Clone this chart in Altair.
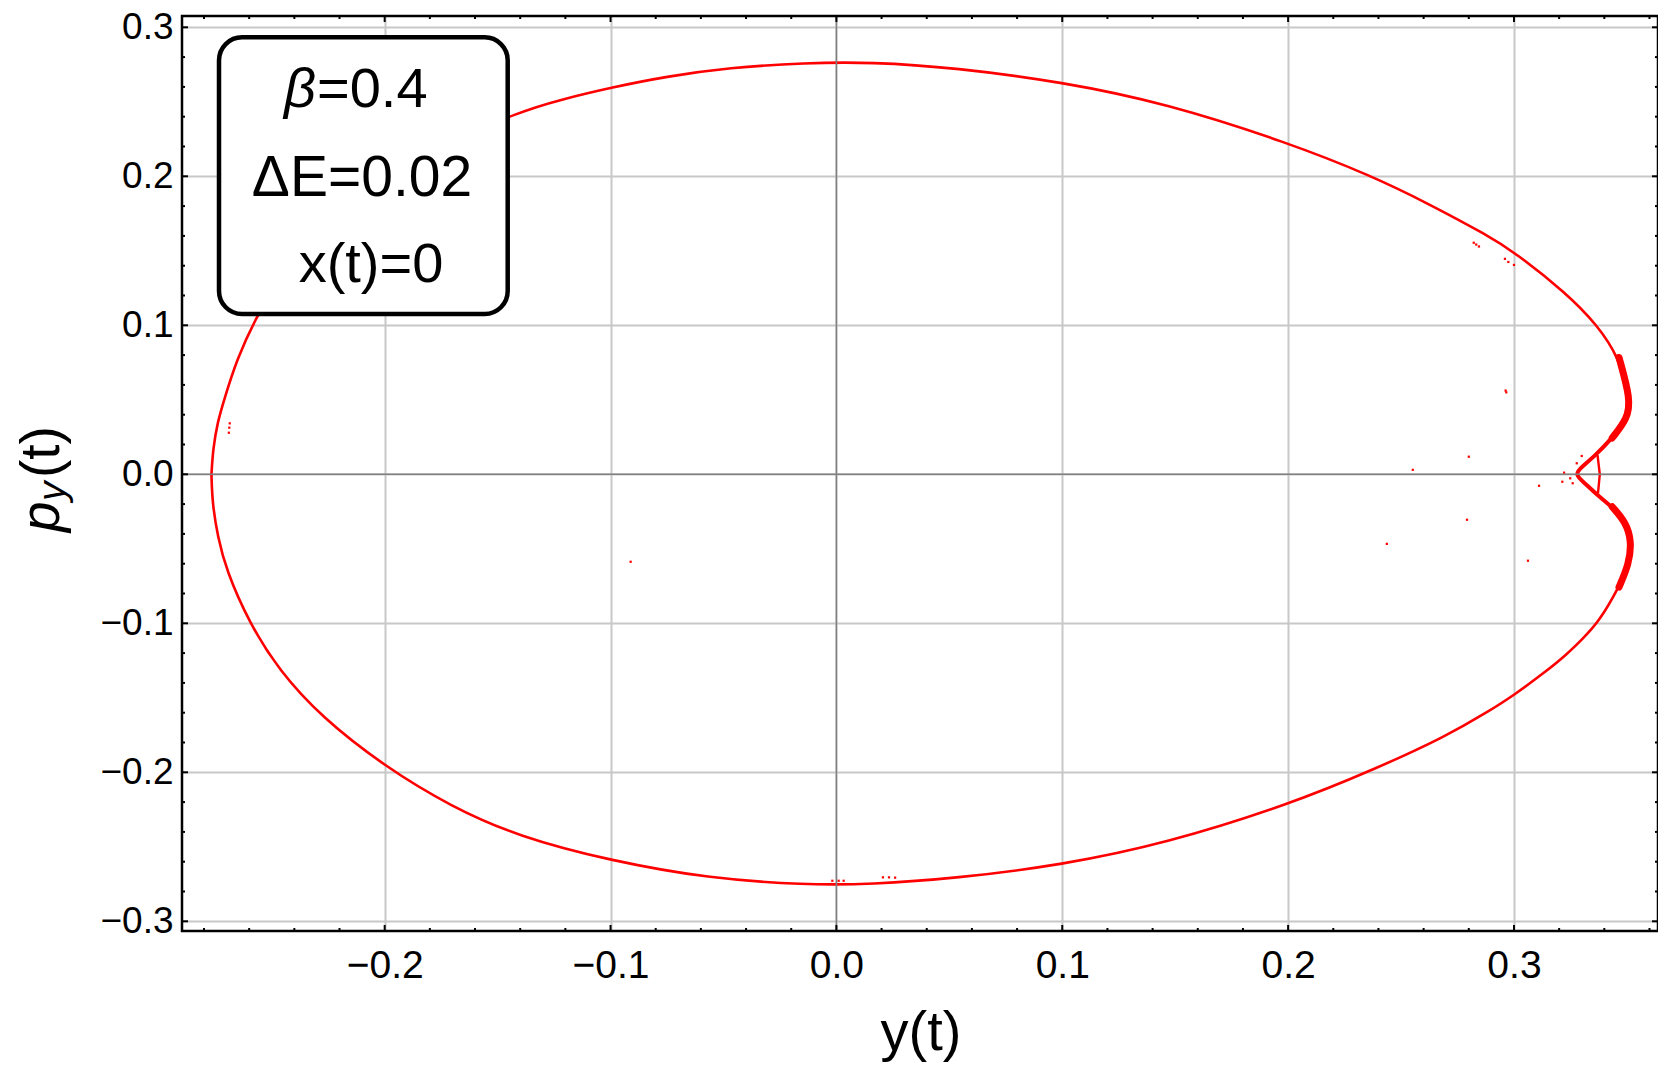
import altair as alt
import pandas as pd

# ---------------- data ----------------
X_DOMAIN = [-0.28974, 0.36377]
Y_DOMAIN = [-0.30651, 0.30758]

x_major = [-0.2, -0.1, 0.0, 0.1, 0.2, 0.3]
y_major = [-0.3, -0.2, -0.1, 0.0, 0.1, 0.2, 0.3]
x_minor = [-0.28, -0.26, -0.24, -0.22, -0.18, -0.16, -0.14, -0.12, -0.08, -0.06,
           -0.04, -0.02, 0.02, 0.04, 0.06, 0.08, 0.12, 0.14, 0.16, 0.18, 0.22,
           0.24, 0.26, 0.28, 0.32, 0.34, 0.36]
y_minor = [-0.28, -0.26, -0.24, -0.22, -0.18, -0.16, -0.14, -0.12, -0.08, -0.06,
           -0.04, -0.02, 0.02, 0.04, 0.06, 0.08, 0.12, 0.14, 0.16, 0.18, 0.22,
           0.24, 0.26, 0.28]

# main Poincare section curve, traced clockwise from the leftmost point
curve_y = [-0.2767, -0.2760, -0.2740, -0.2711, -0.2655, -0.2571, -0.2469, -0.2282,
           -0.1999, -0.1705, -0.1407, -0.1220, -0.1000, -0.0754, -0.0475, -0.0139,
           0.0154, 0.0526, 0.1000, 0.1458, 0.2000, 0.2371, 0.2613, 0.2889, 0.3002,
           0.3229, 0.3369, 0.3465, 0.3517, 0.3502, 0.3435, 0.3362, 0.3302, 0.3266,
           0.3318, 0.3369, 0.3435, 0.3495, 0.3521, 0.3509, 0.3465, 0.3376, 0.3300,
           0.3229, 0.3140, 0.3002, 0.2889, 0.2698, 0.2390, 0.2000, 0.1458, 0.1000,
           0.0526, 0.0154, -0.0139, -0.0568, -0.1001, -0.1407, -0.1705, -0.1999,
           -0.2282, -0.2469, -0.2599, -0.2702, -0.2739, -0.2763, -0.2767]
curve_py = [0.0000, 0.0170, 0.0350, 0.0500, 0.0770, 0.1050, 0.1310, 0.1630,
            0.1960, 0.2231, 0.2432, 0.2515, 0.2595, 0.2670, 0.2729, 0.2762,
            0.2767, 0.2729, 0.2633, 0.2490, 0.2226, 0.2002, 0.1823, 0.1599, 0.1490,
            0.1220, 0.1002, 0.0784, 0.0501, 0.0372, 0.0244, 0.0129, 0.0052, 0.0000,
            -0.0064, -0.0141, -0.0218, -0.0321, -0.0449, -0.0603, -0.0757, -0.0990, -0.1110,
            -0.1215, -0.1325, -0.1480, -0.1590, -0.1759, -0.1975, -0.2219, -0.2477, -0.2622,
            -0.2712, -0.2752, -0.2756, -0.2712, -0.2593, -0.2432, -0.2231, -0.1962,
            -0.1627, -0.1313, -0.1000, -0.0642, -0.0419, -0.0195, 0.0000]

# small connecting stroke inside the cusp
cusp_y = [0.3370, 0.3380, 0.3372]
cusp_py = [0.0129, 0.0000, -0.0128]

# isolated points
stray_y = [-0.2686, -0.2688, -0.2690, -0.0911, -0.0018, 0.0010, 0.0032, 0.0206,
           0.0233, 0.0260, 0.2552, 0.2800, 0.2792, 0.2437, 0.2963, 0.2966, 0.3062,
           0.3111, 0.2822, 0.2833, 0.2845, 0.2960, 0.2975, 0.3000, 0.3222, 0.3214,
           0.3260, 0.3278, 0.3300, 0.3249]
stray_py = [0.0342, 0.0313, 0.0279, -0.0587, -0.2728, -0.2728, -0.2728, -0.2705,
            -0.2705, -0.2707, 0.0030, 0.0118, -0.0305, -0.0467, 0.0562, 0.0550, -0.0580,
            -0.0077, 0.1554, 0.1542, 0.1529, 0.1446, 0.1425, 0.1405, 0.0011, -0.0050,
            -0.0060, 0.0074, 0.0123, -0.0027]

box_lines = ["\u03b2", "=0.4", "\u0394E=0.02", "x(t)=0"]
x_title = "y(t)"
y_title_parts = ["p", "y", "(t)"]

# ---------------- chart ----------------
W, H = 1476, 915
FONT = "Liberation Sans"
RED = "#ff0000"
xs = alt.Scale(domain=X_DOMAIN, nice=False, zero=False)
ys = alt.Scale(domain=Y_DOMAIN, nice=False, zero=False)

lab = "replace(format(datum.value, '.1f'), '-', '\u2212')"
ax_x = alt.Axis(values=x_major, grid=True, gridColor="#c8c8c8", gridWidth=2,
                ticks=False, domain=False, labelExpr=lab, labelFont=FONT,
                labelFontSize=39, labelColor="black", labelPadding=15,
                labelOverlap=False, labelFlush=False, title=None)
ax_y = alt.Axis(values=y_major, grid=True, gridColor="#c8c8c8", gridWidth=2,
                ticks=False, domain=False, labelExpr=lab, labelFont=FONT,
                labelFontSize=37, labelColor="black", labelPadding=9,
                labelOverlap=False, labelFlush=False, title=None)

curve_df = pd.DataFrame({"y": curve_y, "py": curve_py, "i": list(range(len(curve_y)))})
cusp_df = pd.DataFrame({"y": cusp_y, "py": cusp_py, "i": list(range(len(cusp_y)))})
stray_df = pd.DataFrame({"y": stray_y, "py": stray_py})

X = alt.X("y:Q", scale=xs, axis=ax_x)
Y = alt.Y("py:Q", scale=ys, axis=ax_y)

curve = alt.Chart(curve_df).mark_line(
    color=RED, strokeWidth=2.6, interpolate="basis"
).encode(x=X, y=Y, order="i:Q")

band = alt.Chart(curve_df).transform_filter(
    "datum.y > 0.32 && abs(datum.py) < 0.095"
).mark_line(color=RED, strokeWidth=4, interpolate="basis", strokeCap="round").encode(
    x=X, y=Y, order="i:Q")

band2 = alt.Chart(curve_df).transform_filter(
    "datum.y > 0.33 && abs(datum.py) < 0.08 && abs(datum.py) > 0.02"
).transform_calculate(side="datum.py > 0 ? 'u' : 'l'").mark_line(
    color=RED, strokeWidth=7, interpolate="basis", strokeCap="round").encode(
    x=X, y=Y, order="i:Q", detail="side:N")

cusp = alt.Chart(cusp_df).mark_line(color=RED, strokeWidth=2.4).encode(
    x=X, y=Y, order="i:Q")

stray = alt.Chart(stray_df).mark_square(color=RED, size=5, opacity=1).encode(x=X, y=Y)

zero_x = alt.Chart(pd.DataFrame({"v": [0.0]})).mark_rule(
    color="#808080", strokeWidth=1.5).encode(x=alt.X("v:Q", scale=xs, axis=ax_x))
zero_y = alt.Chart(pd.DataFrame({"v": [0.0]})).mark_rule(
    color="#808080", strokeWidth=1.5).encode(y=alt.Y("v:Q", scale=ys, axis=ax_y))

def xticks(vals, length):
    d = pd.DataFrame({"v": vals})
    bot = alt.Chart(d).mark_rule(color="black", strokeWidth=2).encode(
        x=alt.X("v:Q", scale=xs, axis=ax_x), y=alt.value(H), y2=alt.value(H - length))
    top = alt.Chart(d).mark_rule(color="black", strokeWidth=2).encode(
        x=alt.X("v:Q", scale=xs, axis=ax_x), y=alt.value(0), y2=alt.value(length))
    return [bot, top]

def yticks(vals, length):
    d = pd.DataFrame({"v": vals})
    left = alt.Chart(d).mark_rule(color="black", strokeWidth=2).encode(
        y=alt.Y("v:Q", scale=ys, axis=ax_y), x=alt.value(0), x2=alt.value(length))
    right = alt.Chart(d).mark_rule(color="black", strokeWidth=2).encode(
        y=alt.Y("v:Q", scale=ys, axis=ax_y), x=alt.value(W), x2=alt.value(W - length))
    return [left, right]

one = pd.DataFrame({"a": [0]})

box = alt.Chart(one).mark_rect(
    cornerRadius=23, fill="white", stroke="black", strokeWidth=4.5
).encode(x=alt.value(37), x2=alt.value(325.7), y=alt.value(21.3), y2=alt.value(298))

def txt(s, x, y, size, align="center", style="normal", angle=0):
    return alt.Chart(pd.DataFrame({"t": [s]})).mark_text(
        font=FONT, fontSize=size, fontStyle=style, align=align,
        baseline="alphabetic", color="black", angle=angle
    ).encode(x=alt.value(x), y=alt.value(y), text="t:N")

texts = [
    txt(box_lines[0], 134, 90.7, 56, align="right", style="italic"),
    txt(box_lines[1], 135, 90.7, 56, align="left"),
    txt(box_lines[2], 180, 179.7, 57),
    txt(box_lines[3], 189, 265.7, 56),
    txt(x_title, 739, 1034, 56),
    txt(y_title_parts[0], -123, 516, 55, align="left", style="italic", angle=270),
    txt(y_title_parts[1], -117, 485, 39, align="left", style="italic", angle=270),
    txt(y_title_parts[2], -123, 462, 55, align="left", angle=270),
]

frame = alt.Chart(one).mark_rect(
    fillOpacity=0, fill="white", stroke="black", strokeWidth=2.5
).encode(x=alt.value(0), x2=alt.value(W), y=alt.value(0), y2=alt.value(H))

layers = ([curve, band, band2, cusp, stray, zero_x, zero_y]
          + xticks(x_major, 6) + xticks(x_minor, 3)
          + yticks(y_major, 6) + yticks(y_minor, 3)
          + [box] + texts + [frame])

chart = alt.layer(*layers).properties(
    width=W, height=H,
    autosize=alt.AutoSizeParams(type="none"),
    padding={"left": 174, "top": 8, "right": 0, "bottom": 131},
).configure_view(strokeWidth=0)

chart.save("out.html", embed_options={"renderer": "svg", "actions": False})
